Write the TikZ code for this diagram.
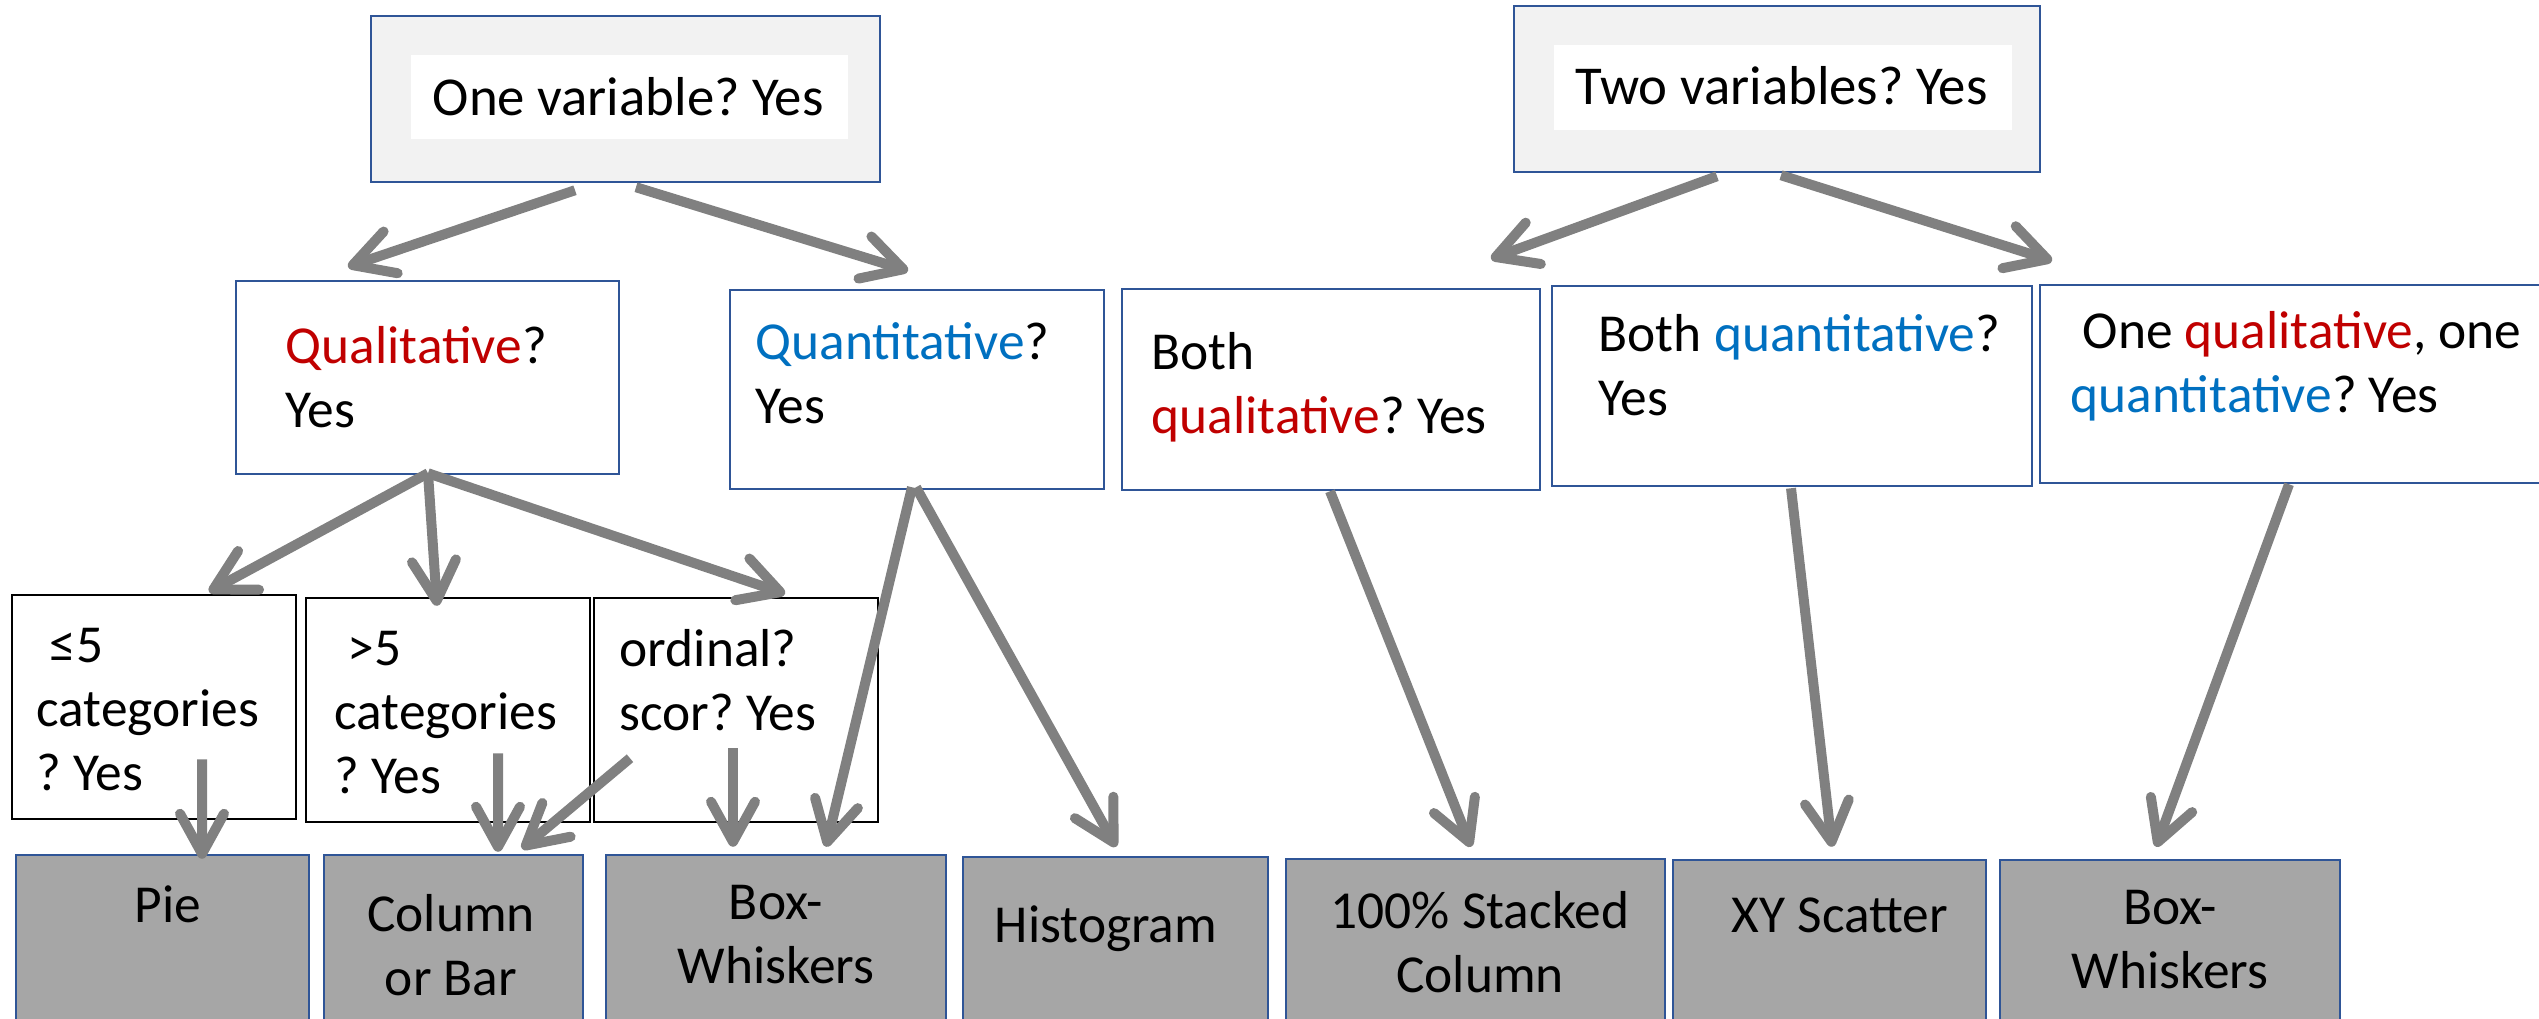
\documentclass[tikz,border=0pt]{standalone}
\usepackage{fontspec}
\setmainfont{Carlito}
\frenchspacing
\usetikzlibrary{arrows.meta, calc}
\definecolor{boxblue}{RGB}{47,85,151}
\definecolor{chartgray}{RGB}{166,166,166}
\definecolor{topgray}{RGB}{242,242,242}
\definecolor{arrowgray}{RGB}{128,128,128}
\definecolor{qlred}{RGB}{192,0,0}
\definecolor{qtblue}{RGB}{0,112,192}
\newcommand{\qlt}[1]{\textcolor{qlred}{#1}}
\newcommand{\qnt}[1]{\textcolor{qtblue}{#1}}
\tikzstyle{question} = [rectangle, draw=boxblue, line width=0.25mm, fill=white, inner sep=0pt]
\tikzstyle{topquestion} = [question, fill=topgray]
\tikzstyle{whitepanel} = [rectangle, fill=white, inner sep=0pt]
\tikzstyle{option} = [rectangle, draw=black, line width=0.25mm, fill=white, inner sep=0pt, minimum width=28.4mm, minimum height=22.4mm]
\tikzstyle{chart} = [rectangle, draw=boxblue, line width=0.25mm, fill=chartgray, inner sep=0pt, minimum height=17.5mm]
\tikzstyle{txt} = [inner sep=0pt, anchor=base west, align=left]
\tikzstyle{toptxt} = [txt, font=\fontsize{15.6}{18.2}\selectfont]
\tikzstyle{charttxt} = [inner sep=0pt, anchor=base, align=center]
\tikzstyle{arrow} = [draw=arrowgray, line width=1mm, -{Straight Barb[length=4mm, width=4.4mm, line cap=round, line join=round]}]

\begin{document}
\begin{tikzpicture}[x=0.1mm, y=-0.1mm, font=\fontsize{15.2}{18.2}\selectfont]
\useasboundingbox (0,0) rectangle (2539,1018);
\clip (0,0) rectangle (2539,1018);

% one variable (text nodes sit on the baseline of their last line)
\node (top1) [topquestion, minimum width=50.9mm, minimum height=16.6mm] at (625.5,99) {};
\node (top1w) [whitepanel, minimum width=43.7mm, minimum height=8.4mm] at (629.5,97) {};
\node (top1t) [toptxt] at (432,115) {One variable? Yes};

\node (qual) [question, minimum width=38.3mm, minimum height=19.3mm] at (427.5,377.5) {};
\node (qualt) [txt] at (285,427) {\qlt{Qualitative}?\\Yes};
\node (quant) [question, minimum width=37.4mm, minimum height=19.9mm] at (917,389.5) {};
\node (quantt) [txt] at (755,423) {\qnt{Quantitative}?\\Yes};

\node (few) [option] at (154,707) {};
\node (fewt) [txt] at (36,790) {\hspace*{1.3mm}≤5\\categories\\? Yes};
\node (many) [option] at (448,710) {};
\node (manyt) [txt] at (334,793) {\hspace*{1.3mm}>5\\categories\\? Yes};
\node (ord) [option] at (736,710) {};
\node (ordt) [txt] at (619,730) {ordinal?\\scor? Yes};

% two variables
\node (top2) [topquestion, minimum width=52.6mm, minimum height=16.6mm] at (1777,89) {};
\node (top2w) [whitepanel, minimum width=45.8mm, minimum height=8.5mm] at (1783,87.5) {};
\node (top2t) [toptxt] at (1575,104) {Two variables? Yes};

\node (bothql) [question, minimum width=41.8mm, minimum height=20.1mm] at (1331,389.5) {};
\node (bothqlt) [txt] at (1151,433) {Both\\\qlt{qualitative}? Yes};
\node (bothqt) [question, minimum width=48mm, minimum height=20mm] at (1792,386) {};
\node (bothqtt) [txt] at (1598,415) {Both \qnt{quantitative}?\\Yes};
\node (mixed) [question, minimum width=56mm, minimum height=19.8mm] at (2320,384) {};
\node (mixedt) [txt] at (2070,412) {\hspace*{1.2mm}One \qlt{qualitative}, one\\\qnt{quantitative}? Yes};

% charts
\node (pie) [chart, minimum width=29.3mm] at (162.5,942.5) {};
\node (piet) [charttxt] at (168,922) {Pie};
\node (colbar) [chart, minimum width=25.9mm] at (453.5,942.5) {};
\node (colbart) [charttxt] at (451,995) {Column\\or Bar};
\node (boxw1) [chart, minimum width=34mm] at (776,942.5) {};
\node (boxw1t) [charttxt] at (776,983) {Box-\\Whiskers};
\node (hist) [chart, minimum width=30.5mm] at (1115.5,944.5) {};
\node (histt) [charttxt] at (1106,942) {Histogram};
\node (stacked) [chart, minimum width=37.9mm] at (1475.5,946.5) {};
\node (stackedt) [charttxt] at (1480,992) {100\% Stacked\\Column};
\node (scatter) [chart, minimum width=31.3mm] at (1829.5,947.5) {};
\node (scattert) [charttxt] at (1840,932) {XY Scatter};
\node (boxw2) [chart, minimum width=34mm] at (2170,947.5) {};
\node (boxw2t) [charttxt] at (2170,988) {Box-\\Whiskers};

% arrows
\draw [arrow] ($(top1.south)+(-50.5,7)$) -- ($(qual.north)+(-79.5,-13)$);
\draw [arrow] ($(top1.south)+(10.5,4)$) -- ($(quant.north)+(-9,-18)$);
\draw [arrow] ($(qual.south)+(0.5,-2)$) -- ($(few.north)+(55,-2)$);
\draw [arrow] ($(qual.south)+(0.5,-2)$) -- ($(many.north)+(-11,9)$);
\draw [arrow] ($(qual.south)+(0.5,-2)$) -- ($(ord.north)+(49,-3)$);
\draw [arrow] ($(quant.south)+(-5,-3)$) -- ($(boxw1.north)+(50,-7)$);
\draw [arrow] ($(quant.south)+(-1,-3)$) -- ($(hist.north)+(0.5,-9)$);
\draw [arrow] ($(few.south)+(48,-61)$) -- ($(pie.north)+(39.5,5)$);
\draw [arrow] ($(many.south)+(50,-70)$) -- ($(colbar.north)+(44.5,-2)$);
\draw [arrow] ($(ord.south)+(-106,-65)$) -- ($(colbar.north)+(68.5,-5)$);
\draw [arrow] ($(ord.south)+(-3,-75)$) -- ($(boxw1.north)+(-43,-7)$);
\draw [arrow] ($(top2.south)+(-60,3)$) -- ($(bothql.north)+(160,-29)$);
\draw [arrow] ($(top2.south)+(4,2)$) -- ($(mixed.north)+(-268,-23)$);
\draw [arrow] ($(bothql.south)+(-1,0)$) -- ($(stacked.north)+(-4.5,-11)$);
\draw [arrow] ($(bothqt.south)+(-1,1)$) -- ($(scatter.north)+(2.5,-12)$);
\draw [arrow] ($(mixed.south)+(-31,0)$) -- ($(boxw2.north)+(-14,-12)$);

\end{tikzpicture}
\end{document}
